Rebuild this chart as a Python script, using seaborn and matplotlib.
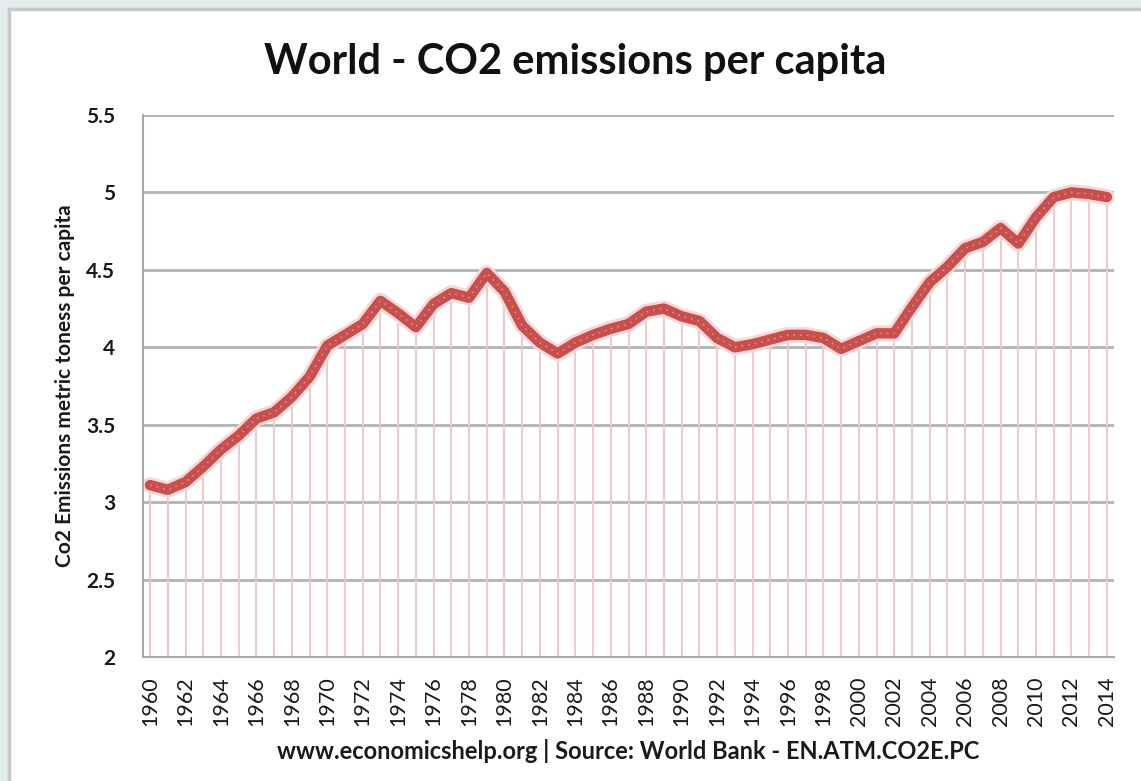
import numpy as np
import pandas as pd
import matplotlib
matplotlib.use('Agg')
import matplotlib.pyplot as plt
import seaborn as sns
from matplotlib.patches import Rectangle

# World CO2 emissions per capita (metric tons)
years = list(range(1960, 2015))
co2_per_capita = [
    3.11, 3.08, 3.13, 3.23, 3.34, 3.43, 3.54, 3.58, 3.68, 3.81,
    4.01, 4.08, 4.15, 4.30, 4.22, 4.13, 4.28, 4.35, 4.32, 4.48,
    4.36, 4.14, 4.03, 3.96, 4.03, 4.08, 4.12, 4.15, 4.23, 4.25,
    4.20, 4.17, 4.06, 4.00, 4.02, 4.05, 4.08, 4.08, 4.06, 3.99,
    4.04, 4.09, 4.09, 4.26, 4.42, 4.52, 4.64, 4.68, 4.77, 4.67,
    4.84, 4.97, 5.00, 4.99, 4.97,
]
y_ticks = [2, 2.5, 3, 3.5, 4, 4.5, 5, 5.5]
y_tick_labels = ['2', '2.5', '3', '3.5', '4', '4.5', '5', '5.5']
x_tick_years = list(range(1960, 2015, 2))

df = pd.DataFrame({'year': years, 'co2': co2_per_capita})

sns.set_theme(style='white')
plt.rcParams['font.family'] = ['Lato', 'DejaVu Sans']

fig = plt.figure(figsize=(11.41, 7.81), dpi=100)
fig.patch.set_facecolor('white')

# outer frame like the screenshot: light strip on top/left and a grey border
W, H = 1141, 781
fig.patches.append(Rectangle((0, 0), 1, 1, transform=fig.transFigure,
                             facecolor='#e4ecee', edgecolor='none', zorder=-3))
fig.patches.append(Rectangle((9 / W, -0.05), 1.1, 1.05 - 9 / H, transform=fig.transFigure,
                             facecolor='white', edgecolor='#c8c8c8', linewidth=2.5, zorder=-2))

ax = fig.add_axes([143 / W, 1 - 657 / H, (1114 - 143) / W, (657 - 115) / H])
ax.set_facecolor('none')

# drop lines from each point down to the axis
ax.vlines(df['year'], 2, df['co2'], color='#f0c4c4', linewidth=1.3, zorder=1)

# soft glow, main line, and light dotted texture on top
ax.plot(df['year'], df['co2'], color='#f6d6d6', linewidth=11.5, solid_capstyle='round', zorder=2)
sns.lineplot(data=df, x='year', y='co2', ax=ax, color='#c6504e', linewidth=7.5, zorder=3)
ax.plot(df['year'], df['co2'], color='#e58a88', linewidth=1.2, linestyle=(0, (1, 3)), zorder=4)

ax.set_xlim(1959.6, 2014.4)
ax.set_ylim(2, 5.5)
ax.set_yticks(y_ticks)
ax.set_yticklabels(y_tick_labels, fontsize=15, fontweight='bold')
ax.set_xticks(x_tick_years)
ax.set_xticklabels([str(y) for y in x_tick_years], rotation=90, fontsize=15.5)
ax.grid(axis='y', color='#b3b3b3', linewidth=2, zorder=0)
ax.set_axisbelow(True)

for side in ['top', 'right']:
    ax.spines[side].set_visible(False)
ax.spines['left'].set_color('#a8a8a8')
ax.spines['left'].set_linewidth(1.5)
ax.spines['bottom'].set_color('#a8a8a8')
ax.spines['bottom'].set_linewidth(1.5)
ax.tick_params(axis='y', which='major', length=7, width=1.5, color='#b3b3b3', pad=13, labelcolor='#1a1a1a')
ax.tick_params(axis='x', which='major', length=0, pad=14, labelcolor='#1a1a1a')

ax.set_xlabel('www.economicshelp.org | Source: World Bank - EN.ATM.CO2E.PC',
              fontsize=17, fontweight='bold', labelpad=9, color='#1a1a1a')
ax.set_ylabel('Co2 Emissions metric toness per capita',
              fontsize=15, fontweight='bold', labelpad=8, color='#1a1a1a')

fig.text(575 / W, 1 - 62 / H, 'World - CO2 emissions per capita', ha='center', va='center',
         fontsize=30, fontweight='bold', color='#111111')

fig.savefig('out.png', dpi=100)
